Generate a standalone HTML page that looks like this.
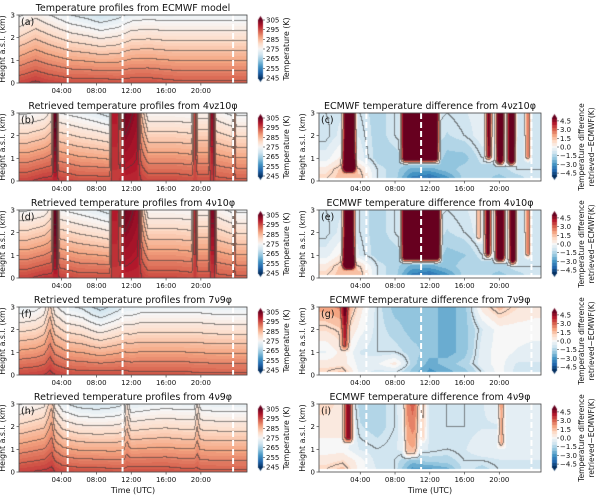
<!DOCTYPE html>
<html><head><meta charset="utf-8">
<style>
html,body{margin:0;padding:0;background:#fff;}
#wrap{position:relative;width:600px;height:498px;overflow:hidden;}
canvas,svg{position:absolute;left:0;top:0;}
text{font-family:"DejaVu Sans","Liberation Sans",sans-serif;fill:#111;}
</style></head>
<body>
<div id="wrap">
<canvas id="cv" width="600" height="498"></canvas>
<svg id="sv" width="600" height="498" xmlns="http://www.w3.org/2000/svg"></svg>
</div>
<script>
// ---------- data ----------
const xTickHours = [4, 8, 12, 16, 20];
const xTickLabels = ["04:00", "08:00", "12:00", "16:00", "20:00"];
const yTicks = [0, 1, 2, 3];
const tempCbTicks = [305, 295, 285, 275, 265, 255, 245];
const diffCbTicks = [4.5, 3.0, 1.5, 0.0, -1.5, -3.0, -4.5];
const gapHours = [4.7, 11.0, 23.7];

// temperature panels: times (h), surface temperature (K), lapse rate (K/km)
const aTimes = [-1, 1, 2.5, 5, 7, 8.5, 10.5, 12, 14, 16, 18, 20, 22, 25.5];
const aSurf = [295, 296.5, 295.5, 294.5, 294.5, 294.5, 294, 294.5, 294.5, 294, 293.5, 293.5, 293.5, 293.5];
const aLapse = [7, 6.5, 6.8, 7.5, 8, 8.5, 7.8, 7.2, 7, 7, 6.8, 6.8, 6.8, 6.8];

const bTimes = [0, 2, 2.9, 3.15, 3.4, 3.7, 6, 8, 9.5, 9.8, 10.4, 10.8, 11.3, 12.7, 13.2, 14, 17, 19, 19.25, 19.4, 19.7, 20.9, 21.15, 21.5, 21.8, 23.7, 23.9, 24.1, 25.5];
const bSurf = [295.5, 297, 297, 298, 298, 296, 294.5, 294.5, 294.5, 296, 296, 297, 298, 298, 296, 295, 295, 294.5, 295, 295, 294.5, 294.5, 296, 296, 294, 293.5, 294, 293.5, 293.5];
const bLapse = [7, 7, 6, -3, -3, 7, 7, 7.5, 8, -1, -1, 2, -2, -1, 4, 6.5, 6.5, 6.5, 0, 0, 6, 6, -2, -2, 6, 6.5, 1, 6.5, 6.5];

const dTimes = [0, 2, 2.9, 3.15, 3.45, 3.8, 6, 8, 9.5, 9.8, 10.4, 10.8, 11.3, 12.8, 13.3, 14, 17, 19, 19.2, 19.45, 19.7, 20.9, 21.15, 21.6, 21.9, 23.7, 23.9, 24.1, 25.5];
const dSurf = [295.5, 297, 297, 298, 298, 296, 294.5, 294.5, 294.5, 296, 296, 297, 298, 298, 296, 295, 295, 294.5, 295.5, 295.5, 294.5, 294.5, 296, 296, 294, 293.5, 294, 293.5, 293.5];
const dLapse = [7, 7, 6, -3, -3, 7, 7, 7.5, 8, -1, -1, 2, -2, -1, 4, 6.5, 6.5, 6.5, -0.5, -0.5, 6, 6, -2.5, -2.5, 6, 6.5, 1, 6.5, 6.5];

const fTimes = [-1, 1, 2, 2.7, 3.3, 4.5, 5.5, 6.5, 7.5, 8.5, 9.5, 10.5, 11.2, 12, 13, 14, 16, 18, 20, 22, 25.5];
const fSurf = [295, 295.5, 296, 297, 296, 295, 294.5, 294.5, 294.5, 294.5, 294.5, 294.5, 294.5, 294, 294, 294, 294, 294, 293.5, 293.5, 293.5];
const fLapse = [7.5, 7.3, 6.8, 5, 6.8, 7.5, 7.5, 7.8, 8.5, 9, 8.5, 8, 7.5, 7.3, 7, 7, 7, 7, 6.8, 7, 7];

const hTimes = [-1, 2, 2.9, 3.3, 4.2, 6, 8, 10, 11.2, 11.5, 12, 14, 16, 18, 19.3, 19.6, 20, 22, 25.5];
const hSurf = [295.5, 296.5, 297, 296, 295, 294.5, 294.5, 294, 294, 294, 294.5, 294.5, 294.5, 294, 294, 294, 293.5, 293.5, 293.5];
const hLapse = [7, 6.5, 4.5, 6.5, 7.5, 8, 8.2, 7.8, 7.5, 5, 7.5, 7.2, 7, 7, 7, 5, 6.8, 7, 7];

// difference panels: background grid (rows = heights, cols = hours) and warm columns
const diffGridHours = [0, 2, 4, 6, 8, 10, 12, 14, 16, 18, 20, 22, 24];
const diffGridHeights = [0.1, 0.5, 1, 2, 3];
const cGrid = [
 [1, 1.5, 1.5, -1, -1.5, -3.5, -4, -3, -1.5, -1.5, -2, -1.5, -1],
 [0.5, 1.5, 1, -1, -1.5, -2.5, -2.5, -2, -1.5, -1.5, -1.5, -1, -1],
 [-0.5, 0.5, -0.5, -1.5, -1.5, -1, -1, -2, -2, -1, -1, -1, -0.8],
 [-1.2, -0.5, -0.8, -1.5, -1, -0.5, -0.8, -1.3, -1, -0.5, -1, -0.8, -0.8],
 [-1, -0.8, -1, -1.5, -1, -0.5, -0.8, -1, -0.8, -0.5, -0.8, -0.8, -0.8]];
const cColStart = [2.1, 8.8, 18.5, 19.7, 21.0, 23.1];
const cColEnd = [3.4, 13.0, 19.1, 20.5, 21.8, 23.5];
const cColBase = [0.3, 0.7, 0.8, 0.6, 0.6, 0.8];
const cColAmp = [8, 8, 6, 8, 8, 5];

const eGrid = [
 [1, 1.5, 1.5, -1, -1.5, -3.5, -4, -3, -1.5, -1.5, -2, -1.5, -1],
 [0.5, 1.5, 1, -1, -1.5, -2.5, -2.5, -2, -1.5, -1.5, -1.5, -1, -1],
 [-0.5, 0.5, -0.8, -1.5, -1.5, -1, -1, -2, -1.8, -1, -1, -1, -0.8],
 [-1.2, -0.5, -1, -1.5, -1, -0.5, -0.8, -1.3, -1, -0.5, -1, -0.8, -0.8],
 [-1, -0.8, -1, -1.5, -1, -0.5, -0.8, -1, -0.8, -0.5, -0.8, -0.8, -0.8]];
const eColStart = [2.1, 8.8, 17.5, 18.4, 19.6, 21.2, 23.1];
const eColEnd = [3.3, 13.2, 17.8, 19.0, 20.6, 21.9, 23.5];
const eColBase = [0.3, 0.6, 1.5, 0.8, 0.6, 0.5, 0.8];
const eColAmp = [8, 8, 4, 7, 8, 8, 5];

const gGrid = [
 [1, 1.5, -0.5, -1, -1, -2, -3, -2.5, -2, -1, 0, -1, -1],
 [0.5, 0.5, -0.5, -0.3, 0.5, -1.5, -2.5, -2, -1.5, -0.5, 0, -0.8, -0.8],
 [-0.3, 0.5, -0.8, -1, -1, -1.5, -2, -2.5, -2, -0.5, 0, -0.3, -0.5],
 [0.8, 1.2, 0, -1, -1.5, -2, -2, -2.5, -2, -0.8, 0, 0, 0],
 [2, 2.5, 0.5, -1, -2, -2, -2, -2.5, -2, 0.5, 1.5, 0.8, 0.5]];
const gColStart = [1.9];
const gColEnd = [2.6];
const gColBase = [1.0];
const gColAmp = [3];

const iGrid = [
 [1, 1.5, 0, -0.8, -1, -3, -3, -2.5, -1, -1.5, -1, -0.8, -0.8],
 [0.5, 0.8, 0, -1, -1, -2, -1.5, -1.5, -1, -1, -0.8, -0.8, -0.8],
 [0, 0, -0.8, -1, -0.8, -0.3, -0.8, -1, -0.8, -0.3, -0.3, -0.3, -0.3],
 [0.5, 0.5, -1.2, -1.5, -1, 0.5, -0.8, -1, -1, -0.8, -0.8, -0.5, -0.5],
 [1, 0.5, -1.5, -1.5, -1, 1, -0.8, -1, -1, -0.8, -0.3, -0.5, -0.5]];
const iColStart = [2.2, 9.1, 11.0, 20.0];
const iColEnd = [3.1, 10.6, 11.5, 20.5];
const iColBase = [1.2, 0.5, 1.2, 1.0];
const iColAmp = [4.5, 2, 1.5, 3];

// ---------- layout ----------
const L = {x0: 19, x1: 247, tMin: -0.9, tMax: 25.3};
const R = {x0: 319, x1: 541, tMin: -0.75, tMax: 24.8};
const rowTop = [15, 113, 210, 307, 404];
const PH = 68;

const panels = [
 {kind: 'T', side: L, row: 0, letter: '(a)', title: 'Temperature profiles from ECMWF model', times: aTimes, surf: aSurf, lapse: aLapse, name: 'panel-a'},
 {kind: 'T', side: L, row: 1, letter: '(b)', title: 'Retrieved temperature profiles from 4\u03bdz10\u03c6', times: bTimes, surf: bSurf, lapse: bLapse, name: 'panel-b'},
 {kind: 'D', side: R, row: 1, letter: '(c)', title: 'ECMWF temperature difference from 4\u03bdz10\u03c6', grid: cGrid, cs: cColStart, ce: cColEnd, cb: cColBase, ca: cColAmp, name: 'panel-c'},
 {kind: 'T', side: L, row: 2, letter: '(d)', title: 'Retrieved temperature profiles from 4\u03bd10\u03c6', times: dTimes, surf: dSurf, lapse: dLapse, name: 'panel-d'},
 {kind: 'D', side: R, row: 2, letter: '(e)', title: 'ECMWF temperature difference from 4\u03bd10\u03c6', grid: eGrid, cs: eColStart, ce: eColEnd, cb: eColBase, ca: eColAmp, name: 'panel-e'},
 {kind: 'T', side: L, row: 3, letter: '(f)', title: 'Retrieved temperature profiles from 7\u03bd9\u03c6', times: fTimes, surf: fSurf, lapse: fLapse, name: 'panel-f'},
 {kind: 'D', side: R, row: 3, letter: '(g)', title: 'ECMWF temperature difference from 7\u03bd9\u03c6', grid: gGrid, cs: gColStart, ce: gColEnd, cb: gColBase, ca: gColAmp, name: 'panel-g'},
 {kind: 'T', side: L, row: 4, letter: '(h)', title: 'Retrieved temperature profiles from 4\u03bd9\u03c6', times: hTimes, surf: hSurf, lapse: hLapse, name: 'panel-h'},
 {kind: 'D', side: R, row: 4, letter: '(i)', title: 'ECMWF temperature difference from 4\u03bd9\u03c6', grid: iGrid, cs: iColStart, ce: iColEnd, cb: iColBase, ca: iColAmp, name: 'panel-i'}
];

// ---------- helpers ----------
const stops = [[5,48,97],[33,102,172],[67,147,195],[146,197,222],[209,229,240],[247,247,247],[253,219,199],[244,165,130],[214,96,77],[178,24,43],[103,0,31]];
function cmap(u){u=Math.max(0,Math.min(1,u));const p=u*10;const i=Math.min(9,Math.floor(p));const f=p-i;const a=stops[i],b=stops[i+1];return [a[0]+(b[0]-a[0])*f,a[1]+(b[1]-a[1])*f,a[2]+(b[2]-a[2])*f];}
function interp(ts,vs,t){if(t<=ts[0])return vs[0];const n=ts.length;if(t>=ts[n-1])return vs[n-1];for(let k=1;k<n;k++){if(t<=ts[k]){const f=(t-ts[k-1])/(ts[k]-ts[k-1]);return vs[k-1]+(vs[k]-vs[k-1])*f;}}return vs[n-1];}
function tempVal(p,t,z){return interp(p.times,p.surf,t)-interp(p.times,p.lapse,t)*z;}
function diffVal(p,t,z){
  if(z<0.12) return null;
  const rows=p.grid.map(r=>interp(diffGridHours,r,t));
  let v=interp(diffGridHeights,rows,z);
  for(let k=0;k<p.cs.length;k++){
    const w=0.3;
    const wt=Math.max(0,Math.min(1,(t-p.cs[k]+w)/(2*w)))*Math.max(0,Math.min(1,(p.ce[k]-t+w)/(2*w)));
    const wz=Math.max(0,Math.min(1,(z-p.cb[k])/0.3));
    v+=p.ca[k]*wt*wz;
  }
  return v;
}
const SVGNS="http://www.w3.org/2000/svg";
const sv=document.getElementById('sv');
function mk(tag,attrs,parent){const e=document.createElementNS(SVGNS,tag);for(const k in attrs)e.setAttribute(k,attrs[k]);(parent||sv).appendChild(e);return e;}
function txt(str,attrs,parent){const e=mk('text',attrs,parent);e.textContent=str;return e;}

const cv=document.getElementById('cv');
const ctx=cv.getContext('2d');
ctx.fillStyle='#fff';ctx.fillRect(0,0,600,498);

// ---------- render fields ----------
panels.forEach(p=>{
  const s=p.side, W=s.x1-s.x0, H=PH, y0=rowTop[p.row];
  const img=ctx.createImageData(W,H);
  const band=new Array(W*H), col=new Array(W*H);
  for(let py=0;py<H;py++){for(let px=0;px<W;px++){
    const t=s.tMin+(px+0.5)/W*(s.tMax-s.tMin);
    const z=3*(1-(py+0.5)/H);
    let c,b;
    if(p.kind==='T'){const T=tempVal(p,t,z);const q=Math.round(T);c=cmap((q-245)/60);b=Math.floor((T-275)/3);}
    else{const v=diffVal(p,t,z);if(v===null){c=[255,255,255];b=-99;}else{const q=Math.round(v*2)/2;c=cmap((q+5)/10);b=(v>-1?1:0)+(v>1?1:0)+(v>3?1:0);}}
    col[py*W+px]=c;band[py*W+px]=b;
  }}
  for(let py=0;py<H;py++){for(let px=0;px<W;px++){
    const i=py*W+px;let c=col[i];const b=band[i];
    let edge=false;
    if(b!==-99){
      if(px+1<W&&band[i+1]!==b&&band[i+1]!==-99)edge=true;
      if(py+1<H&&band[i+W]!==b&&band[i+W]!==-99)edge=true;
    }
    if(edge)c=[c[0]*0.4+60*0.6,c[1]*0.4+60*0.6,c[2]*0.4+60*0.6];
    img.data[i*4]=c[0];img.data[i*4+1]=c[1];img.data[i*4+2]=c[2];img.data[i*4+3]=255;
  }}
  ctx.putImageData(img,s.x0,y0);
});

// ---------- colorbars ----------
function drawCb(x,yTop,yBot,vmin,vmax,step){
  const tri=4;const h=yBot-yTop;
  for(let y=yTop;y<yBot;y++){
    let u=1-(y-yTop+0.5)/h;
    let v=vmin+(vmax-vmin)*((u*(h)-tri)/(h-2*tri));
    v=Math.round(v/step)*step;
    const c=cmap((v-vmin)/(vmax-vmin));
    let wdt=5,off=0;
    if(y-yTop<tri){wdt=5*(y-yTop+0.5)/tri;off=(5-wdt)/2;}
    if(yBot-y<tri){wdt=5*(yBot-y-0.5)/tri;off=(5-wdt)/2;}
    ctx.fillStyle=`rgb(${c[0]|0},${c[1]|0},${c[2]|0})`;
    ctx.fillRect(x+off,y,wdt,1);
  }
}

// ---------- svg axes ----------
panels.forEach(p=>{
  const s=p.side, W=s.x1-s.x0, y0=rowTop[p.row], y1=y0+PH;
  const g=mk('g',{});
  
  
  const xs=t=>s.x0+(t-s.tMin)/(s.tMax-s.tMin)*W;
  const ys=z=>y1-z/3*PH;
  gapHours.forEach(h=>{
    const l=mk('line',{x1:xs(h),x2:xs(h),y1:y0,y2:y1,stroke:'#fff','stroke-width':2,'stroke-dasharray':'6,3'},g);
    
    
  });
  const fr=mk('rect',{x:s.x0,y:y0,width:W,height:PH,fill:'none',stroke:'#444','stroke-width':0.8},g);
  
  
  const tt=txt(p.title,{x:(s.x0+s.x1)/2,y:y0-4,'text-anchor':'middle','font-size':9.5},g);
  
  
  const lt=txt(p.letter,{x:s.x0+2,y:y0+10,'font-size':9.5},g);
  
  
  xTickHours.forEach((h,k)=>{
    mk('line',{x1:xs(h),x2:xs(h),y1:y1,y2:y1+2.5,stroke:'#444','stroke-width':0.7},g);
    const tl=txt(xTickLabels[k],{x:xs(h),y:y1+10,'text-anchor':'middle','font-size':7},g);
    
    
  });
  yTicks.forEach(v=>{
    mk('line',{x1:s.x0-2.5,x2:s.x0,y1:ys(v),y2:ys(v),stroke:'#444','stroke-width':0.7},g);
    const yl=txt(String(v),{x:s.x0-4,y:ys(v)+2.5,'text-anchor':'end','font-size':7},g);
    
    
  });
  const ylx=s.x0-14;
  const yt=txt('Height a.s.l. (km)',{x:ylx,y:(y0+y1)/2,'text-anchor':'middle','font-size':7.8,transform:`rotate(-90 ${ylx} ${(y0+y1)/2})`},g);
  
  
  if(p.row===4){
    const xt=txt('Time (UTC)',{x:(s.x0+s.x1)/2,y:y1+21,'text-anchor':'middle','font-size':8},g);
    
    
  }
  const cbx=p.kind==='T'?258:552;
  const cbTop=y0+1,cbBot=y1-1;
  if(p.kind==='T')drawCb(cbx,cbTop,cbBot,245,305,1);else drawCb(cbx,cbTop,cbBot,-5,5,0.5);
  const cg=mk('g',{},g);
  
  
  const inner0=cbTop+4,inner1=cbBot-4;
  const ticks=p.kind==='T'?tempCbTicks:diffCbTicks;
  const vmin=p.kind==='T'?245:-5,vmax=p.kind==='T'?305:5;
  ticks.forEach(v=>{
    const y=inner1-(v-vmin)/(vmax-vmin)*(inner1-inner0);
    mk('line',{x1:cbx+5,x2:cbx+7,y1:y,y2:y,stroke:'#444','stroke-width':0.6},cg);
    const lab=p.kind==='T'?String(v):(v<0?'\u2212'+Math.abs(v).toFixed(1):v.toFixed(1));
    const ct=txt(lab,{x:cbx+8,y:y+2.5,'font-size':7},cg);
    
    
  });
  const cy=(y0+y1)/2;
  if(p.kind==='T'){
    const cx=289;
    const c1=txt('Temperature (K)',{x:cx,y:cy,'text-anchor':'middle','font-size':7.8,transform:`rotate(-90 ${cx} ${cy})`},cg);
    
    
  } else {
    const cx1=584,cx2=594;
    const c1=txt('Temperature difference',{x:cx1,y:cy,'text-anchor':'middle','font-size':7.5,transform:`rotate(-90 ${cx1} ${cy})`},cg);
    
    
    const c2=txt('retrieved\u2212ECMWF(K)',{x:cx2,y:cy,'text-anchor':'middle','font-size':7.5,transform:`rotate(-90 ${cx2} ${cy})`},cg);
    
    
  }
});
</script>
</body></html>
